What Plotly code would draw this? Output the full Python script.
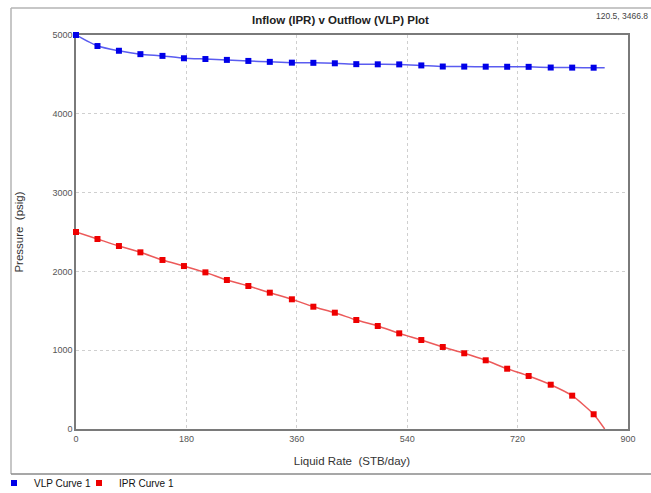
import plotly.graph_objects as go

# ---- data ----
rates = [0, 35, 70, 105, 141, 176, 211, 246, 281, 316, 352, 387, 422,
         457, 492, 527, 563, 598, 633, 668, 703, 738, 774, 809, 844]
aof_rate = 862  # end of both computed curves (no marker there)

vlp_pressure = [5000, 4860, 4800, 4757, 4735, 4705, 4695, 4684, 4671, 4659,
                4649, 4647, 4641, 4630, 4628, 4627, 4614, 4600, 4599, 4598,
                4597, 4596, 4587, 4586, 4585]
vlp_end = 4584

ipr_pressure = [2500, 2411, 2322, 2242, 2145, 2068, 1988, 1891, 1815, 1730,
                1646, 1552, 1476, 1383, 1307, 1214, 1129, 1041, 961, 872,
                765, 673, 562, 423, 187]
ipr_end = 0

x_ticks = [0, 180, 360, 540, 720, 900]
y_ticks = [0, 1000, 2000, 3000, 4000, 5000]

title_text = "Inflow (IPR) v Outflow (VLP) Plot"
corner_text = "120.5, 3466.8"

# ---- layout geometry (px) ----
W, H = 651, 493
L, R, T, B = 76, 628, 35, 429
pw, ph = R - L, B - T

def px(x):
    return (x - L) / pw

def py(y):
    return (B - y) / ph

FONT = "Liberation Sans, Arial, sans-serif"

fig = go.Figure()

# computed curves (lines)
fig.add_trace(go.Scatter(x=rates + [aof_rate], y=vlp_pressure + [vlp_end],
                         mode="lines", line=dict(color="#5a5cf0", width=1.5, shape="spline", smoothing=0.6),
                         showlegend=False, hoverinfo="skip", cliponaxis=False))
fig.add_trace(go.Scatter(x=rates + [aof_rate], y=ipr_pressure + [ipr_end],
                         mode="lines", line=dict(color="#ec5a5a", width=1.5, shape="spline", smoothing=0.6),
                         showlegend=False, hoverinfo="skip", cliponaxis=False))
# sampled points (markers)
fig.add_trace(go.Scatter(x=rates, y=vlp_pressure, mode="markers", name="VLP Curve 1",
                         marker=dict(symbol="square", size=6, color="#0000e8"),
                         legend="legend", cliponaxis=False))
fig.add_trace(go.Scatter(x=rates, y=ipr_pressure, mode="markers", name="IPR Curve 1",
                         marker=dict(symbol="square", size=6, color="#ee0000"),
                         legend="legend2", cliponaxis=False))

axis_common = dict(
    showline=True, mirror=True, linecolor="#7a7a7a", linewidth=1.5,
    showgrid=True, gridcolor="#cfcfcf", griddash="dot", gridwidth=1,
    zeroline=False, ticks="", tickfont=dict(family=FONT, size=9, color="#555555"),
    automargin=False, layer="below traces",
)

fig.update_xaxes(range=[0, 900], tickvals=x_ticks, ticktext=[str(v) for v in x_ticks],
                 title=dict(text="Liquid Rate  (STB/day)", font=dict(family=FONT, size=11.5, color="#333333"), standoff=14),
                 **axis_common)
fig.update_yaxes(range=[0, 5000], tickvals=y_ticks, ticktext=[str(v) for v in y_ticks],
                 title=dict(text="Pressure  (psig)", font=dict(family=FONT, size=11.5, color="#333333"), standoff=26),
                 **axis_common)

shapes = [
    # outer panel frame
    dict(type="line", xref="paper", yref="paper", x0=px(11), x1=px(11), y0=py(8), y1=py(474),
         line=dict(color="#b4b4b4", width=1.5)),
    dict(type="line", xref="paper", yref="paper", x0=px(11), x1=px(W + 2), y0=py(8), y1=py(8),
         line=dict(color="#b4b4b4", width=1.5)),
    dict(type="line", xref="paper", yref="paper", x0=px(11), x1=px(W + 2), y0=py(474), y1=py(474),
         line=dict(color="#8a8a8a", width=1.5)),
]

annotations = [
    dict(text=f"<b>{title_text}</b>", xref="paper", yref="paper", x=px(340), y=py(20),
         xanchor="center", yanchor="middle", showarrow=False,
         font=dict(family=FONT, size=11.5, color="#222222")),
    dict(text=corner_text, xref="paper", yref="paper", x=px(650), y=py(16),
         xanchor="right", yanchor="middle", showarrow=False,
         font=dict(family=FONT, size=8.5, color="#444444")),
]

legend_common = dict(orientation="h", xanchor="left", yanchor="middle",
                     font=dict(family=FONT, size=10, color="#111111"),
                     itemclick=False, itemdoubleclick=False, itemwidth=30,
                     bgcolor="rgba(0,0,0,0)", borderwidth=0)

fig.update_layout(
    width=W, height=H,
    margin=dict(l=L, r=W - R, t=T, b=H - B, autoexpand=False),
    paper_bgcolor="white", plot_bgcolor="white",
    shapes=shapes, annotations=annotations,
    legend=dict(x=px(-6), y=py(483), **legend_common),
    legend2=dict(x=px(79), y=py(483), **legend_common),
    showlegend=True,
)

fig.write_html("out.html", config={"displayModeBar": False},
               post_script="document.body.style.margin='0';document.body.style.padding='0';")
